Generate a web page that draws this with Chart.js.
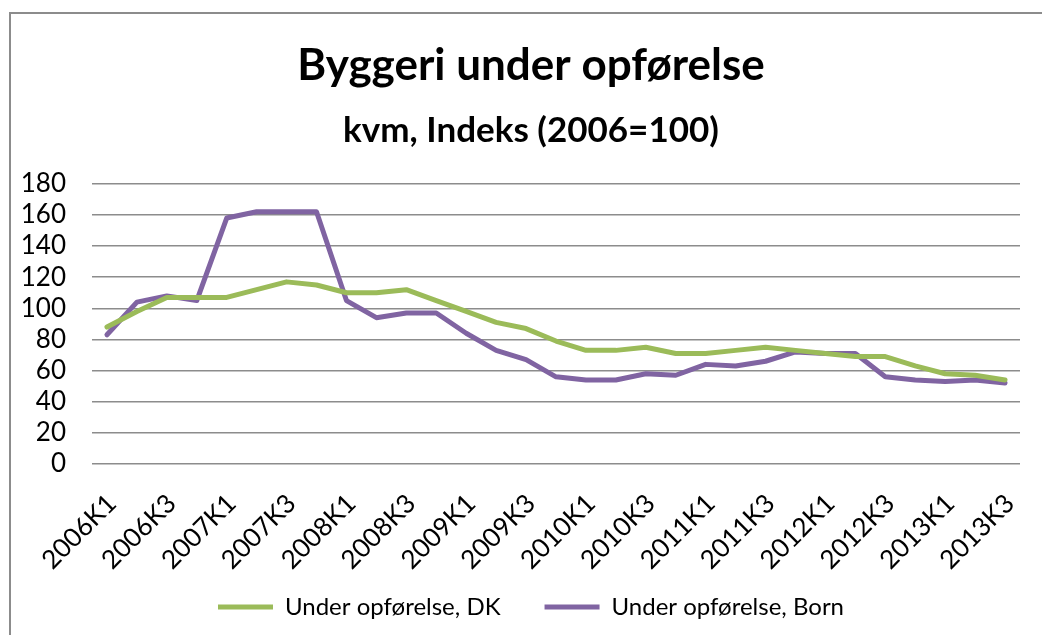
<!DOCTYPE html>
<html>
<head>
<meta charset="utf-8">
<script src="https://cdn.jsdelivr.net/npm/chart.js@4/dist/chart.umd.min.js"></script>
<style>
	html, body { margin: 0; padding: 0; background: #fff; }
	#wrap { position: relative; width: 1042px; height: 635px; overflow: hidden; }
	#frame { position: absolute; left: 9px; top: 12px; width: 1100px; height: 700px; border-left: 2px solid #8c8c8c; border-top: 2px solid #8c8c8c; }
	#cv { position: absolute; left: 10px; top: 13px; }
</style>
</head>
<body>
<div id="wrap">
	<div id="frame"></div>
	<canvas id="cv" width="1042" height="622"></canvas>
</div>
<script>
// Kvartaler 2006K1 - 2013K3
const quarters = [
	'2006K1','2006K2','2006K3','2006K4',
	'2007K1','2007K2','2007K3','2007K4',
	'2008K1','2008K2','2008K3','2008K4',
	'2009K1','2009K2','2009K3','2009K4',
	'2010K1','2010K2','2010K3','2010K4',
	'2011K1','2011K2','2011K3','2011K4',
	'2012K1','2012K2','2012K3','2012K4',
	'2013K1','2013K2','2013K3'
];

// Under opførelse, DK (indeks)
const valuesDK = [
	88, 98, 107, 107,
	107, 112, 117, 115,
	110, 110, 112, 105,
	98, 91, 87, 79,
	73, 73, 75, 71,
	71, 73, 75, 73,
	71, 69, 69, 63,
	58, 57, 54
];

// Under opførelse, Born (indeks)
const valuesBorn = [
	83, 104, 108, 105,
	158, 162, 162, 162,
	105, 94, 97, 97,
	84, 73, 67, 56,
	54, 54, 58, 57,
	64, 63, 66, 72,
	71, 71, 56, 54,
	53, 54, 52
];

const yTicks = [0, 20, 40, 60, 80, 100, 120, 140, 160, 180];

const fontName = 'Lato, "Open Sans", sans-serif';

new Chart(document.getElementById('cv'), {
	type: 'line',
	data: {
		labels: quarters,
		datasets: [
			{
				label: 'Under opførelse, DK',
				data: valuesDK,
				borderColor: '#9bbb59',
				backgroundColor: '#9bbb59',
				borderWidth: 5,
				pointRadius: 0,
				tension: 0,
				borderJoinStyle: 'round',
				borderCapStyle: 'round'
			},
			{
				label: 'Under opførelse, Born',
				data: valuesBorn,
				borderColor: '#8064a2',
				backgroundColor: '#8064a2',
				borderWidth: 5,
				pointRadius: 0,
				tension: 0,
				borderJoinStyle: 'round',
				borderCapStyle: 'round'
			}
		]
	},
	options: {
		responsive: false,
		animation: false,
		layout: {
			padding: { left: 7, right: 7, top: 0, bottom: 6 }
		},
		scales: {
			x: {
				offset: true,
				grid: { display: false, drawTicks: false },
				border: { display: false },
				// axe de hauteur fixe : les étiquettes inclinées peuvent déborder sans rogner
				afterFit: function (scale) {
					scale.height = 87;
					scale.paddingLeft = 0;
					scale.paddingRight = 32;
					scale.getPadding = function () {
						return { left: 0, top: 0, right: 32, bottom: 0 };
					};
					scale._computeLabelArea = function () {
						return undefined;
					};
				},
				ticks: {
					autoSkip: false,
					maxRotation: 45,
					minRotation: 45,
					padding: 24,
					labelOffset: 5,
					color: '#000',
					font: { family: fontName, size: 26 },
					callback: function (value, index) {
						return index % 2 === 0 ? quarters[index] : '';
					}
				}
			},
			y: {
				min: 0,
				max: 180,
				afterBuildTicks: function (axis) {
					axis.ticks = yTicks.map(v => ({ value: v }));
				},
				// largeur fixe : étiquettes + marge de 26px
				afterFit: function (scale) {
					scale.width = 75;
				},
				grid: { color: '#8c8c8c', lineWidth: 1.5, drawTicks: false },
				border: { display: false },
				ticks: {
					autoSkip: false,
					padding: 26,
					color: '#000',
					font: { family: fontName, size: 26 }
				}
			}
		},
		plugins: {
			title: {
				display: true,
				text: 'Byggeri under opførelse',
				color: '#000',
				font: { family: fontName, size: 44, weight: 'bold' },
				padding: { top: 26, bottom: 18 }
			},
			subtitle: {
				display: true,
				text: 'kvm, Indeks (2006=100)',
				color: '#000',
				font: { family: fontName, size: 35, weight: 'bold' },
				padding: { top: 0, bottom: 32 }
			},
			legend: {
				position: 'bottom',
				labels: {
					usePointStyle: true,
					pointStyle: 'line',
					pointStyleWidth: 55,
					padding: 44,
					color: '#000',
					font: { family: fontName, size: 24 }
				}
			},
			tooltip: { enabled: false }
		}
	}
});
</script>
</body>
</html>
